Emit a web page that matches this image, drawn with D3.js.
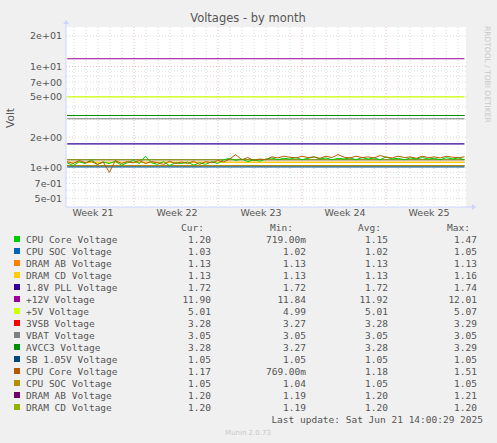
<!DOCTYPE html><html><head><meta charset="utf-8"><script src="https://cdn.jsdelivr.net/npm/d3@7"></script>
<style>body{margin:0;background:#f0f0f0}text{font-family:"DejaVu Sans",sans-serif}text.m{font-family:"DejaVu Sans Mono",monospace}</style></head><body>
<svg id="c" width="497" height="443"></svg>
<script>
const names=["CPU Core Voltage","CPU SOC Voltage","DRAM AB Voltage","DRAM CD Voltage","1.8V PLL Voltage","+12V Voltage","+5V Voltage","3VSB Voltage","VBAT Voltage","AVCC3 Voltage","SB 1.05V Voltage","CPU Core Voltage","CPU SOC Voltage","DRAM AB Voltage","DRAM CD Voltage"];
const colors=["#00CC00","#0066B3","#FF8000","#FFCC00","#330099","#990099","#CCFF00","#FF0000","#808080","#008F00","#00487D","#B35A00","#B38F00","#6B006B","#8FB300"];
const cur=["1.20","1.03","1.13","1.13","1.72","11.90","5.01","3.28","3.05","3.28","1.05","1.17","1.05","1.20","1.20"];
const mins=["719.00m","1.02","1.13","1.13","1.72","11.84","4.99","3.27","3.05","3.27","1.05","769.00m","1.04","1.19","1.19"];
const avgs=["1.15","1.02","1.13","1.13","1.72","11.92","5.01","3.28","3.05","3.28","1.05","1.18","1.05","1.20","1.20"];
const maxs=["1.47","1.05","1.13","1.16","1.74","12.01","5.07","3.29","3.05","3.29","1.05","1.51","1.05","1.21","1.20"];
const flat=[null,1.02,1.13,1.13,1.72,11.92,5.01,3.28,3.05,3.28,1.05,null,1.05,1.20,1.20];
const green=[1.12,1.05,1.15,1.1,1.2,1.08,1.14,1.1,1.16,1.06,1.12,1.18,1.1,1.3,1.12,1.08,1.15,1.05,1.12,1.1,1.14,1.06,1.12,1.08,1.15,1.1,1.2,1.24,1.18,1.22,1.15,1.2,1.16,1.22,1.25,1.2,1.24,1.22,1.26,1.2,1.24,1.28,1.22,1.25,1.2,1.24,1.22,1.25,1.2,1.26,1.22,1.25,1.2,1.28,1.22,1.24,1.2,1.25,1.22,1.26,1.22,1.24,1.2,1.26,1.22,1.25,1.2];
const orange=[1.15,1.1,1.18,1.12,1.16,1.08,1.14,0.9,1.18,1.1,1.15,1.12,1.18,1.1,1.15,1.12,1.08,1.16,1.1,1.14,1.1,1.16,1.08,1.15,1.12,1.18,1.14,1.22,1.35,1.2,1.26,1.18,1.22,1.2,1.28,1.25,1.3,1.27,1.25,1.3,1.26,1.28,1.24,1.3,1.26,1.35,1.27,1.25,1.3,1.26,1.28,1.25,1.32,1.27,1.25,1.3,1.26,1.28,1.24,1.3,1.26,1.28,1.25,1.3,1.27,1.26,1.28];
const weeks=["Week 21","Week 22","Week 23","Week 24","Week 25"];
const yLabels=[0.5,0.7,1,2,5,7,10,20];
const svg=d3.select("#c");
const x=d3.scaleLinear().domain([0,33.33]).range([66,466]);
const y=d3.scaleLog().domain([0.41,24.5]).range([207,27]);
svg.append("rect").attr("x",66).attr("y",27).attr("width",400).attr("height",180).attr("fill","#fff");
const minors=[];[0.1,1,10].forEach(d=>{for(let k=1;k<10;k++){const v=d*k;if(v>0.41&&v<24.5)minors.push(v);}});
svg.selectAll(".hm").data(minors).join("line").attr("x1",66).attr("x2",466).attr("y1",d=>y(d)).attr("y2",d=>y(d)).attr("stroke",d=>(d===1||d===10)?"#e8a0a0":"#c8c8c8").attr("stroke-dasharray","1,2").attr("stroke-width",0.7);
const days=d3.range(0,34).map(i=>i-0.33).filter(d=>d>0);
svg.selectAll(".vm").data(days).join("line").attr("x1",d=>x(d)).attr("x2",d=>x(d)).attr("y1",27).attr("y2",207).attr("stroke",(d,i)=>((Math.round(d+0.33)-6)%7===0)?"#e8a0a0":"#c8c8c8").attr("stroke-dasharray","1,2").attr("stroke-width",0.7);
svg.selectAll(".yl").data(yLabels).join("text").attr("x",62).attr("y",d=>y(d)+3.5).attr("text-anchor","end").attr("font-size",9.5).attr("fill","#555").text(d=>d3.format(".0e")(d).replace(/e([+-])(\d)$/,"e$10$2"));
svg.selectAll(".xl").data(weeks).join("text").attr("x",(d,i)=>x(2.25+7*i)).attr("y",216).attr("text-anchor","middle").attr("font-size",9.5).attr("fill","#555").text(d=>d);
svg.append("line").attr("x1",66).attr("x2",472).attr("y1",207).attr("y2",207).attr("stroke","#ccd4ff");
svg.append("line").attr("x1",66).attr("x2",66).attr("y1",22).attr("y2",207).attr("stroke","#ccd4ff");
svg.append("path").attr("d","M472,204L476,207L472,210Z").attr("fill","#ccd4ff");
svg.append("path").attr("d","M63,24L66,20L69,24Z").attr("fill","#ccd4ff");
svg.append("text").attr("transform","translate(14,118)rotate(-90)").attr("text-anchor","middle").attr("font-size",10.5).attr("fill","#555").text("Volt");
svg.append("text").attr("x",248).attr("y",22).attr("text-anchor","middle").attr("font-size",11.5).attr("fill","#555").text("Voltages - by month");
svg.append("text").attr("transform","translate(485,26)rotate(90)").attr("font-size",7.5).attr("fill","#c8c8c8").text("RRDTOOL / TOBI OETIKER");
const line=d3.line().x(d=>x(d[0])).y(d=>y(d[1]));
flat.forEach((v,i)=>{if(v==null)return;svg.append("path").attr("d",line([[0.1,v],[33.2,v]])).attr("stroke",colors[i]).attr("fill","none").attr("stroke-width",1.1);});
[[green,0],[orange,11]].forEach(([arr,ci])=>{const n=arr.length;svg.append("path").attr("d",line(arr.map((v,j)=>[0.1+j*33.1/(n-1),v]))).attr("stroke",colors[ci]).attr("fill","none").attr("stroke-width",1);});
const hdr=[["Cur:",204],["Min:",293],["Avg:",381],["Max:",470]];
hdr.forEach(h=>svg.append("text").attr("class","m").attr("x",h[1]).attr("y",231).attr("text-anchor","end").attr("font-size",9.5).attr("fill","#555").text(h[0]));
names.forEach((nm,i)=>{const yy=243+i*12;
svg.append("rect").attr("x",14).attr("y",yy-7).attr("width",6).attr("height",6).attr("fill",colors[i]);
svg.append("text").attr("class","m").attr("x",26).attr("y",yy).attr("font-size",9.5).attr("fill","#555").text(nm);
[[cur,211],[mins,306],[avgs,388],[maxs,477]].forEach(([a,xx])=>svg.append("text").attr("class","m").attr("x",xx).attr("y",yy).attr("text-anchor","end").attr("font-size",9.5).attr("fill","#555").text(a[i]));});
svg.append("text").attr("class","m").attr("x",483).attr("y",423).attr("text-anchor","end").attr("font-size",9.5).attr("fill","#555").text("Last update: Sat Jun 21 14:00:29 2025");
svg.append("text").attr("x",248).attr("y",435).attr("text-anchor","middle").attr("font-size",7).attr("fill","#c8c8c8").text("Munin 2.0.73");
</script></body></html>
